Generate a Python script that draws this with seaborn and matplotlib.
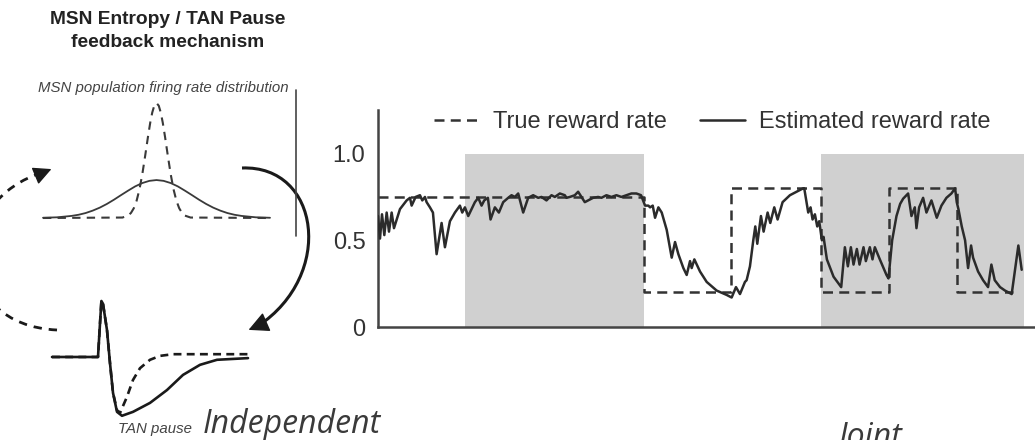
import seaborn as sns
from matplotlib import pyplot as plt
from matplotlib.path import Path
from matplotlib.patches import PathPatch
from matplotlib.lines import Line2D

# ---- data ----
# estimated reward rate (time, rate)
est_t = [0, 0.6, 1.2, 1.9, 2.6, 3.3, 4.1, 4.8, 6.6, 8.6, 9.6, 10.1, 11.3, 12.6, 13.3, 14.1, 14.6,
         15.6, 16.5, 17.6, 19.1, 20.1, 21.6, 23.1, 24.6, 25.3, 26.1, 27.1, 28.1, 29.1, 30.1, 31.1,
         31.9, 33.0, 33.8, 35.1, 36.3, 37.6, 39.1, 40.1, 41.1, 42.1, 43.6, 45.1, 46.6, 48.1, 49.1,
         50.6, 52.1, 53.1, 54.6, 56.1, 56.6, 57.6, 59.1, 60.1, 61.1, 62.1, 63.1, 64.6, 66.1, 67.1,
         68.6, 70.1, 71.6, 73.1, 74.6, 76.1, 77.6, 79.0, 80.2, 81.2, 81.7, 82.5, 83.2, 84.2, 85.2,
         86.7, 88.2, 89.2, 90.2, 91.7, 92.7, 93.7, 94.2, 95.0, 96.7, 98.7, 101.7, 104.7, 106.2,
         107.5, 108.7, 110.2, 110.7, 111.7, 112.7, 113.3, 113.9, 115.0, 115.8, 117.0, 117.8, 119.0,
         120.0, 121.5, 123.7, 125.7, 127.7, 128.0, 129.2, 129.9, 130.5, 131.2, 131.9, 132.5, 133.3,
         133.8, 134.8, 136.8, 139.1, 140.2, 141.1, 142.0, 142.8, 143.8, 144.6, 145.8, 146.5, 147.7,
         148.5, 149.2, 150.7, 152.7, 153.3, 154.4, 155.7, 156.8, 157.7, 159.2, 160.2, 161.2, 161.7,
         162.5, 163.7, 164.7, 166.2, 167.3, 167.8, 169.2, 170.7, 172.2, 173.3, 173.8, 174.3, 175.3,
         176.3, 177.2, 178.1, 178.7, 180.2, 181.7, 183.2, 184.2, 185.2, 186.8, 188.3, 190.3, 192.3,
         193.3]
est_rate = [0.64, 0.51, 0.65, 0.53, 0.66, 0.55, 0.66, 0.57, 0.68, 0.73, 0.745, 0.70, 0.75, 0.76, 0.73,
            0.75, 0.72, 0.69, 0.66, 0.42, 0.60, 0.46, 0.61, 0.66, 0.70, 0.66, 0.69, 0.64, 0.68, 0.72,
            0.745, 0.70, 0.73, 0.745, 0.62, 0.69, 0.66, 0.72, 0.745, 0.76, 0.75, 0.77, 0.66, 0.745,
            0.76, 0.745, 0.75, 0.73, 0.76, 0.75, 0.77, 0.76, 0.745, 0.75, 0.76, 0.78, 0.75, 0.72,
            0.73, 0.745, 0.75, 0.745, 0.76, 0.75, 0.76, 0.75, 0.76, 0.77, 0.77, 0.76, 0.70, 0.70,
            0.69, 0.70, 0.63, 0.69, 0.66, 0.56, 0.40, 0.49, 0.42, 0.34, 0.30, 0.38, 0.34, 0.39, 0.32,
            0.26, 0.21, 0.185, 0.17, 0.23, 0.19, 0.26, 0.27, 0.35, 0.50, 0.58, 0.48, 0.64, 0.55,
            0.66, 0.60, 0.69, 0.62, 0.72, 0.76, 0.78, 0.80, 0.80, 0.66, 0.69, 0.62, 0.65, 0.58, 0.61,
            0.50, 0.52, 0.39, 0.29, 0.23, 0.46, 0.35, 0.46, 0.36, 0.45, 0.36, 0.46, 0.38, 0.46, 0.39,
            0.46, 0.39, 0.30, 0.28, 0.50, 0.64, 0.71, 0.74, 0.77, 0.64, 0.69, 0.57, 0.69, 0.745, 0.66,
            0.73, 0.66, 0.63, 0.70, 0.745, 0.77, 0.80, 0.72, 0.68, 0.58, 0.50, 0.34, 0.47, 0.40, 0.32,
            0.27, 0.23, 0.36, 0.27, 0.23, 0.21, 0.19, 0.47, 0.33]

# true reward rate (step changes)
true_t = [0, 80, 106, 133, 153.5, 174, 190.7]
true_rate = [0.75, 0.2, 0.8, 0.2, 0.8, 0.2, 0.2]

# shaded blocks (start, end)
shade_blocks = [(26, 80), (133, 194)]
y_ticks = [0, 0.5, 1.0]
y_tick_labels = ["0", "0.5", "1.0"]

# schematic: MSN firing rate distributions
narrow_x = [-4, -1.2, -1.0, -0.9, -0.8, -0.7, -0.6, -0.5, -0.4, -0.3, -0.22, -0.15, -0.08, 0,
            0.08, 0.15, 0.22, 0.3, 0.4, 0.5, 0.6, 0.7, 0.8, 0.9, 1.0, 1.2, 4]
narrow_y = [0, 0.004, 0.021, 0.044, 0.085, 0.151, 0.25, 0.381, 0.54, 0.707, 0.83, 0.917, 0.976, 1.0,
            0.976, 0.917, 0.83, 0.707, 0.54, 0.381, 0.25, 0.151, 0.085, 0.044, 0.021, 0.004, 0]
wide_x = [-4, -3.5, -3, -2.75, -2.5, -2.25, -2, -1.75, -1.5, -1.25, -1, -0.75, -0.5, -0.25, 0,
          0.25, 0.5, 0.75, 1, 1.25, 1.5, 1.75, 2, 2.25, 2.5, 2.75, 3, 3.5, 4]
wide_y = [0.002, 0.006, 0.018, 0.028, 0.043, 0.064, 0.090, 0.122, 0.159, 0.199, 0.238, 0.275, 0.304,
          0.323, 0.33, 0.323, 0.304, 0.275, 0.238, 0.199, 0.159, 0.122, 0.090, 0.064, 0.043, 0.028,
          0.018, 0.006, 0.002]

# schematic: TAN pause waveforms
tan_solid_t = [0, 23, 24, 24.7, 25.5, 27.5, 29, 30.5, 32.5, 35, 40.5, 49, 57.5, 65.5, 74, 82.5, 98]
tan_solid_v = [0, 0, 0.6, 1.0, 0.95, 0.48, -0.11, -0.64, -0.98, -1.05, -0.98, -0.82, -0.59, -0.32,
               -0.14, -0.05, -0.02]
tan_dash_t = [0, 23, 24, 24.7, 25.5, 27.5, 29, 30.5, 32.5, 34, 37.5, 40.5, 44, 49, 54, 60.5, 74, 99]
tan_dash_v = [0, 0, 0.6, 1.0, 0.95, 0.48, -0.11, -0.64, -0.95, -1.0, -0.71, -0.41, -0.2, -0.05, 0.02,
              0.05, 0.05, 0.05]

W, H = 1035, 440
ink = "#2b2b2b"

sns.set_style("white")
plt.rcParams['font.family'] = ['Liberation Sans', 'DejaVu Sans']

fig = plt.figure(figsize=(W / 100, H / 100), dpi=100)

# overlay in pixel coords for the schematic text and arrows
bg = fig.add_axes([0, 0, 1, 1])
bg.set_xlim(0, W)
bg.set_ylim(H, 0)
bg.axis("off")

bg.text(168, 24, "MSN Entropy / TAN Pause", ha="center", va="baseline",
        fontsize=13.8, fontweight="bold", color="#222222")
bg.text(168, 47, "feedback mechanism", ha="center", va="baseline",
        fontsize=13.8, fontweight="bold", color="#222222")
bg.text(38, 92, "MSN population firing rate distribution", ha="left", va="baseline",
        fontsize=10.8, style="italic", color="#444444")
bg.text(118, 433, "TAN pause", ha="left", va="baseline",
        fontsize=10.8, style="italic", color="#444444")
bg.text(203, 433, "Independent", ha="left", va="baseline", fontsize=23,
        style="italic", color="#3a3a3a", family=["Open Sans", "DejaVu Sans"])
bg.text(838, 446, "Joint", ha="left", va="baseline", fontsize=23,
        style="italic", color="#3a3a3a", family=["Open Sans", "DejaVu Sans"], clip_on=False)

# stray vertical rule beside the distribution panel
bg.plot([296, 296], [90, 236], color="#444444", lw=1.2)

# solid feedback arrow (right)
right_arc = Path([(242, 168), (320, 165), (335, 275), (258, 326)],
                 [Path.MOVETO, Path.CURVE4, Path.CURVE4, Path.CURVE4])
bg.add_patch(PathPatch(right_arc, fill=False, ec="#1a1a1a", lw=2.2))
bg.annotate("", xy=(246, 331), xytext=(262, 324),
            arrowprops=dict(arrowstyle="-|>,head_length=0.7,head_width=0.35",
                            fc="#1a1a1a", ec="#1a1a1a", lw=1, mutation_scale=18))

# dashed feedback arrow (left, mostly cropped by the image edge)
left_arc = Path([(57, 330), (-50, 325), (-50, 200), (44, 172)],
                [Path.MOVETO, Path.CURVE4, Path.CURVE4, Path.CURVE4])
bg.add_patch(PathPatch(left_arc, fill=False, ec="#1a1a1a", lw=2.0, ls=(0, (3, 2.5))))
bg.annotate("", xy=(54, 168), xytext=(42, 173),
            arrowprops=dict(arrowstyle="-|>,head_length=0.7,head_width=0.35",
                            fc="#1a1a1a", ec="#1a1a1a", lw=1, mutation_scale=16))

# distributions panel
ax_g = fig.add_axes([43 / W, 1 - 218 / H, 227 / W, 115 / H])
sns.lineplot(x=wide_x, y=wide_y, ax=ax_g, color="#3a3a3a", lw=1.3, sort=False)
sns.lineplot(x=narrow_x, y=narrow_y, ax=ax_g, color="#3a3a3a", lw=1.5,
             linestyle=(0, (4, 3)), sort=False)
ax_g.set_xlim(-4, 4)
ax_g.set_ylim(0, 1)
ax_g.axis("off")
for ln in ax_g.lines:
    ln.set_clip_on(False)

# TAN pause panel
ax_t = fig.add_axes([52 / W, 1 - 416 / H, 200 / W, 116 / H])
sns.lineplot(x=tan_solid_t, y=tan_solid_v, ax=ax_t, color="#1a1a1a", lw=1.9, sort=False)
sns.lineplot(x=tan_dash_t, y=tan_dash_v, ax=ax_t, color="#1a1a1a", lw=1.9,
             linestyle=(0, (3, 2)), sort=False)
ax_t.set_xlim(0, 100)
ax_t.set_ylim(-1.054, 1.018)
ax_t.axis("off")
for ln in ax_t.lines:
    ln.set_clip_on(False)

# reward-rate time series
ax = fig.add_axes([378 / W, 1 - 327 / H, 666 / W, 216.75 / H])
ax.patch.set_alpha(0)
for a, b in shade_blocks:
    ax.fill_between([a, b], 0, 1.0, color="#d0d0d0", lw=0, zorder=0)
sns.lineplot(x=true_t, y=true_rate, ax=ax, color="#333333", lw=1.8,
             drawstyle="steps-post", linestyle=(0, (4, 2.5)), sort=False, zorder=2)
sns.lineplot(x=est_t, y=est_rate, ax=ax, color=ink, lw=1.8, sort=False, zorder=3)
ax.set_xlim(0, 200)
ax.set_ylim(0, 1.25)
ax.set_yticks(y_ticks)
ax.set_yticklabels(y_tick_labels)
ax.set_xticks([100])
ax.set_xticklabels([])
ax.tick_params(axis="y", direction="out", length=5, width=1.5, color="#444444",
               labelsize=17, labelcolor="#333333", pad=4)
ax.tick_params(axis="x", direction="in", length=6, width=1.5, color="#444444")
sns.despine(ax=ax)
for side in ["left", "bottom"]:
    ax.spines[side].set_color("#444444")
    ax.spines[side].set_linewidth(1.8)

handles = [Line2D([], [], color="#333333", lw=1.8, ls=(0, (4, 2.5)), label="True reward rate"),
           Line2D([], [], color=ink, lw=1.8, label="Estimated reward rate")]
leg = ax.legend(handles=handles, loc="center", bbox_to_anchor=(0.502, 0.944), ncol=2,
                frameon=False, fontsize=17, handlelength=1.9, handletextpad=0.6,
                columnspacing=1.4)
for t in leg.get_texts():
    t.set_color("#333333")

fig.savefig("out.png", dpi=100)
